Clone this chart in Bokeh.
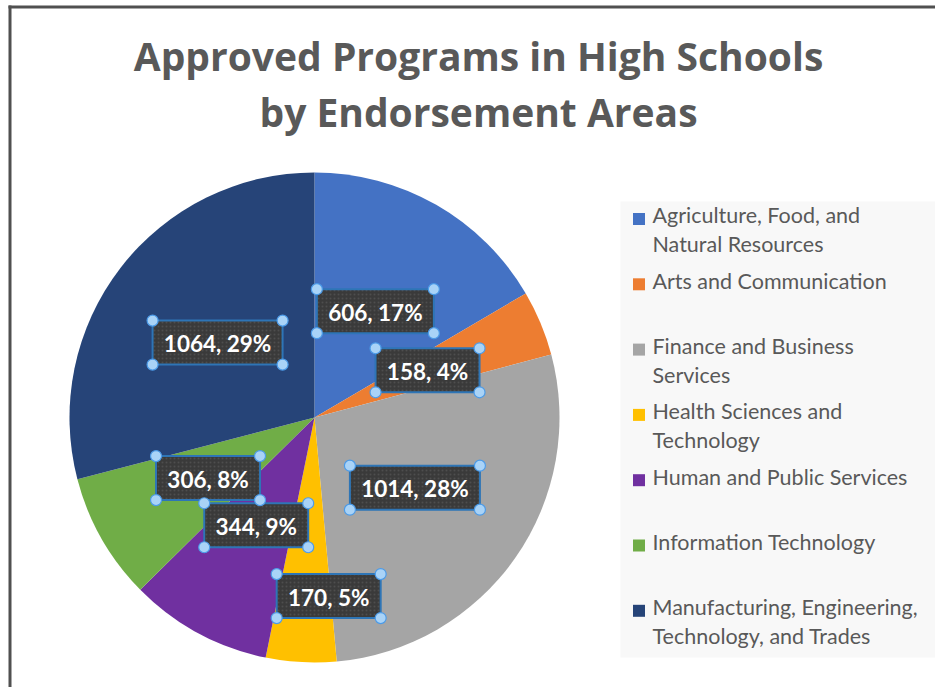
import math
import textwrap
from bokeh.plotting import figure
from bokeh.models import Range1d, ColumnDataSource
from bokeh.core.properties import value
from bokeh.embed import file_html
from bokeh.resources import INLINE

# ---- data ----
title_lines = ["Approved Programs in High Schools", "by Endorsement Areas"]
categories = [
    "Agriculture, Food, and Natural Resources",
    "Arts and Communication",
    "Finance and Business Services",
    "Health Sciences and Technology",
    "Human and Public Services",
    "Information Technology",
    "Manufacturing, Engineering, Technology, and Trades",
]
programs = [606, 158, 1014, 170, 344, 306, 1064]
colors = ["#4472C4", "#ED7D31", "#A5A5A5", "#FFC000", "#7030A0", "#70AD47", "#264478"]

# ---- layout (screen px -> data) ----
W, H = 935, 687
def X(sx):
    return sx
def Y(sy):
    return H - sy

p = figure(width=W, height=H, output_backend="svg", toolbar_location=None,
           x_range=Range1d(0, W), y_range=Range1d(0, H),
           min_border=0, outline_line_color=None, background_fill_color="white")
p.axis.visible = False
p.grid.visible = False

# outer chart border
p.line([X(9.5), X(9.5)], [Y(5), Y(700)], line_color="#505050", line_width=3)
p.line([X(8), X(940)], [Y(6.5), Y(6.5)], line_color="#505050", line_width=3)

# title
tfs = 39
for i, t in enumerate(title_lines):
    p.text(x=[X(478)], y=[Y(70 + 56 * i - 0.38 * tfs)], text=[t], text_align="center",
           text_baseline="alphabetic", text_font=value("Open Sans"), text_font_style="bold",
           text_font_size="%gpx" % tfs, text_color="#595959")

# pie
cx, cy, r = X(314), Y(417), 245
total = float(sum(programs))
cum = [0]
for v in programs:
    cum.append(cum[-1] + v)
starts = [math.pi / 2 - 2 * math.pi * cum[i] / total for i in range(len(programs))]
ends = [math.pi / 2 - 2 * math.pi * cum[i + 1] / total for i in range(len(programs))]
src = ColumnDataSource(dict(start=starts, end=ends, color=colors))
p.wedge(x=cx, y=cy, radius=r, radius_units="screen", start_angle="start", end_angle="end",
        direction="clock", fill_color="color", line_color=None, source=src)

# data labels
label_frac = [0.5, 0.5, 0.5, 0.73, 0.5, 0.5, 0.5]
label_dx = [0, 0, 0, 24, 0, 0, 0]
lx, ly, lt, lw = [], [], [], []
for i, v in enumerate(programs):
    mid = (cum[i] + cum[i + 1]) / 2.0
    th = math.pi / 2 - 2 * math.pi * mid / total
    lx.append(cx + label_frac[i] * r * math.cos(th) + label_dx[i])
    ly.append(cy + label_frac[i] * r * math.sin(th))
    txt = "%d, %d%%" % (v, round(100 * v / total))
    lt.append(txt)
    lw.append(13 * len(txt) + 13)
bh = 44
lsrc = ColumnDataSource(dict(x=lx, y=ly, text=lt, w=lw))
p.rect(x="x", y="y", width="w", height=bh, width_units="screen", height_units="screen",
       fill_color="#3A3A3A", line_color="#2E75B6", line_width=2,
       hatch_pattern="dot", hatch_color="#4E4E4E", hatch_scale=4, source=lsrc)
p.text(x="x", y="y", text="text", text_align="center", text_baseline="middle",
       text_font=value("Lato"), text_font_style="bold", text_font_size="22.5px",
       text_color="white", y_offset=1, source=lsrc)
hx, hy = [], []
for x0, y0, w in zip(lx, ly, lw):
    for sxn in (-1, 1):
        for syn in (-1, 1):
            hx.append(x0 + sxn * w / 2.0)
            hy.append(y0 + syn * bh / 2.0)
p.scatter(hx, hy, size=11, fill_color="#A9D3F7", line_color="#4C9BE8", line_width=1.2)

# legend
lfs = 21.5
p.quad(left=X(620), right=X(940), top=Y(201), bottom=Y(657), fill_color="#F8F8F8", line_color=None)
step = 65.3
for i, (cat, col) in enumerate(zip(categories, colors)):
    base = 223 + step * i
    p.rect(x=[X(638.5)], y=[Y(base - 4.5)], width=12, height=12, width_units="screen",
           height_units="screen", fill_color=col, line_color=None)
    for j, line in enumerate(textwrap.wrap(cat, 27)):
        p.text(x=[X(652)], y=[Y(base + 29 * j - 0.38 * lfs)], text=[line], text_align="left",
               text_baseline="alphabetic", text_font=value("Lato"), text_font_size="%gpx" % lfs,
               text_color="#595959")

open("out.html", "w").write(file_html(p, INLINE))
